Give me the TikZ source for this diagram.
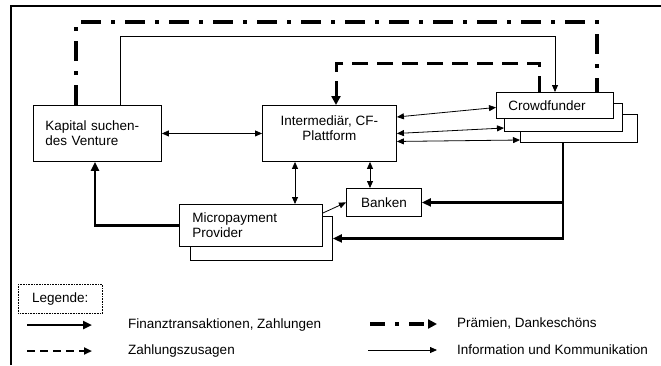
\documentclass[tikz,border=0pt]{standalone}
\usepackage{fontspec}
\setmainfont{Liberation Sans}
\usetikzlibrary{arrows.meta}

\newcommand{\diafont}{\fontsize{13.5}{15}\selectfont}

\tikzset{
  box/.style={draw, fill=white, line width=0.9pt, inner sep=0pt, anchor=north west, font=\diafont},
  info/.style={line width=0.8pt, -{Triangle[length=7pt,width=6pt]}},
  infoboth/.style={line width=0.8pt, {Triangle[length=7pt,width=6pt]}-{Triangle[length=7pt,width=6pt]}},
  fin/.style={line width=2.4pt, -{Triangle[length=9pt,width=8pt]}},
  promise/.style={line width=3pt, dash pattern=on 16pt off 9pt, -{Triangle[length=9pt,width=9pt]}},
  premium/.style={line width=3.2pt, dash pattern=on 20pt off 10pt on 4pt off 10pt},
  txt/.style={anchor=west, inner sep=0pt, font=\diafont},
}

\begin{document}
\begin{tikzpicture}[x=1pt, y=-1pt]
  \useasboundingbox (0,0) rectangle (661,365);
  % frame, only top and left edge are visible
  \draw[line width=2.2pt] (11,365) -- (11,6) -- (661,6);

  % boxes
  \node[box, text width=104pt, inner xsep=12pt, minimum height=56pt, align=left] (kap) at (33,105) {Kapital suchen-\\des Venture};
  \node[box, minimum width=134pt, minimum height=56pt, align=center, text depth=10pt] (inter) at (262,105) {Intermediär, CF-\\Plattform};
  % crowdfunder stack, back to front
  \node[box, minimum width=117pt, minimum height=28pt] (cf3) at (520,114) {};
  \node[box, minimum width=118pt, minimum height=28pt] (cf2) at (504,103) {};
  \node[box, text width=93pt, inner xsep=12pt, minimum height=26pt, align=left] (cf1) at (496,92) {Crowdfunder};
  % micropayment stack
  \node[box, minimum width=142pt, minimum height=44pt] (mp2) at (190,216) {};
  \node[box, text width=117pt, inner xsep=13pt, minimum height=42pt, align=left] (mp1) at (179,204) {Micropayment\\Provider};
  \node[box, minimum width=75pt, minimum height=28pt] (bank) at (346,188) {Banken};

  % information
  \draw[infoboth] (kap.east) -- (inter.west);
  \draw[infoboth] ([yshift=-12pt]inter.north east) -- ([yshift=-2pt]cf1.west);
  \draw[infoboth] (inter.east) -- ([yshift=-25pt]cf2.north west);
  \draw[infoboth] ([yshift=-8pt]inter.east) -- ([yshift=-26pt]cf3.north west);
  \coordinate (imp) at ([xshift=33pt]inter.south west);
  \draw[infoboth] (imp) -- (imp |- mp1.north);
  \coordinate (ibk) at ([xshift=108pt]inter.south west);
  \draw[infoboth] (ibk) -- (ibk |- bank.north);
  \draw[info] ([yshift=-9pt]mp1.north east) -- (bank.west);
  \coordinate (infA) at ([xshift=87pt]kap.north west);
  \coordinate (infB) at ([xshift=59pt]cf1.north west);
  \draw[info] (infA) -- (infA |- 0,36) -| (infB);

  % premiums
  \coordinate (prA) at ([xshift=43pt]kap.north west);
  \coordinate (prB) at ([xshift=101pt]cf1.north west);
  \draw[premium] (prA) -- (prA |- 0,22) -| (prB);

  % promises
  \coordinate (zuA) at ([xshift=43pt]cf1.north west);
  \coordinate (zuB) at ([xshift=74pt]inter.north west);
  \draw[promise] (zuA) -- (zuA |- 0,63) -| (zuB);

  % payments
  \coordinate (pay) at ([xshift=43pt]cf3.south west);
  \draw[fin] (pay) |- (mp2.east);
  \draw[fin] (pay |- bank.east) -- (bank.east);
  \coordinate (kapS) at ([xshift=62pt]kap.south west);
  \draw[fin] (mp1.west) -| (kapS);

  % legend
  \node[draw, densely dotted, line width=0.6pt, minimum width=84pt, minimum height=29pt, anchor=north west, inner sep=0pt, font=\diafont] (legend) at (18,284) {Legende:};
  \coordinate (lfA) at (27,325);
  \coordinate (lfB) at (92,325);
  \draw[fin] (lfA) -- (lfB);
  \node[txt] (lfT) at (128,325) {Finanztransaktionen, Zahlungen};
  \coordinate (lzA) at (27,351);
  \coordinate (lzB) at (92,351);
  \draw[promise, line width=2pt, dash pattern=on 8pt off 5pt, -{Triangle[length=8pt,width=7pt]}] (lzA) -- (lzB);
  \node[txt] (lzT) at (128,351) {Zahlungszusagen};
  \coordinate (lpA) at (370,324);
  \coordinate (lpB) at (437,324);
  \draw[premium, dash pattern=on 15pt off 10pt on 4pt off 10pt, -{Triangle[length=9pt,width=9pt]}] (lpA) -- (lpB);
  \node[txt] (lpT) at (457,323) {Prämien, Dankeschöns};
  \coordinate (liA) at (368,350);
  \coordinate (liB) at (437,350);
  \draw[info] (liA) -- (liB);
  \node[txt] (liT) at (457,350) {Information und Kommunikation};
\end{tikzpicture}
\end{document}
